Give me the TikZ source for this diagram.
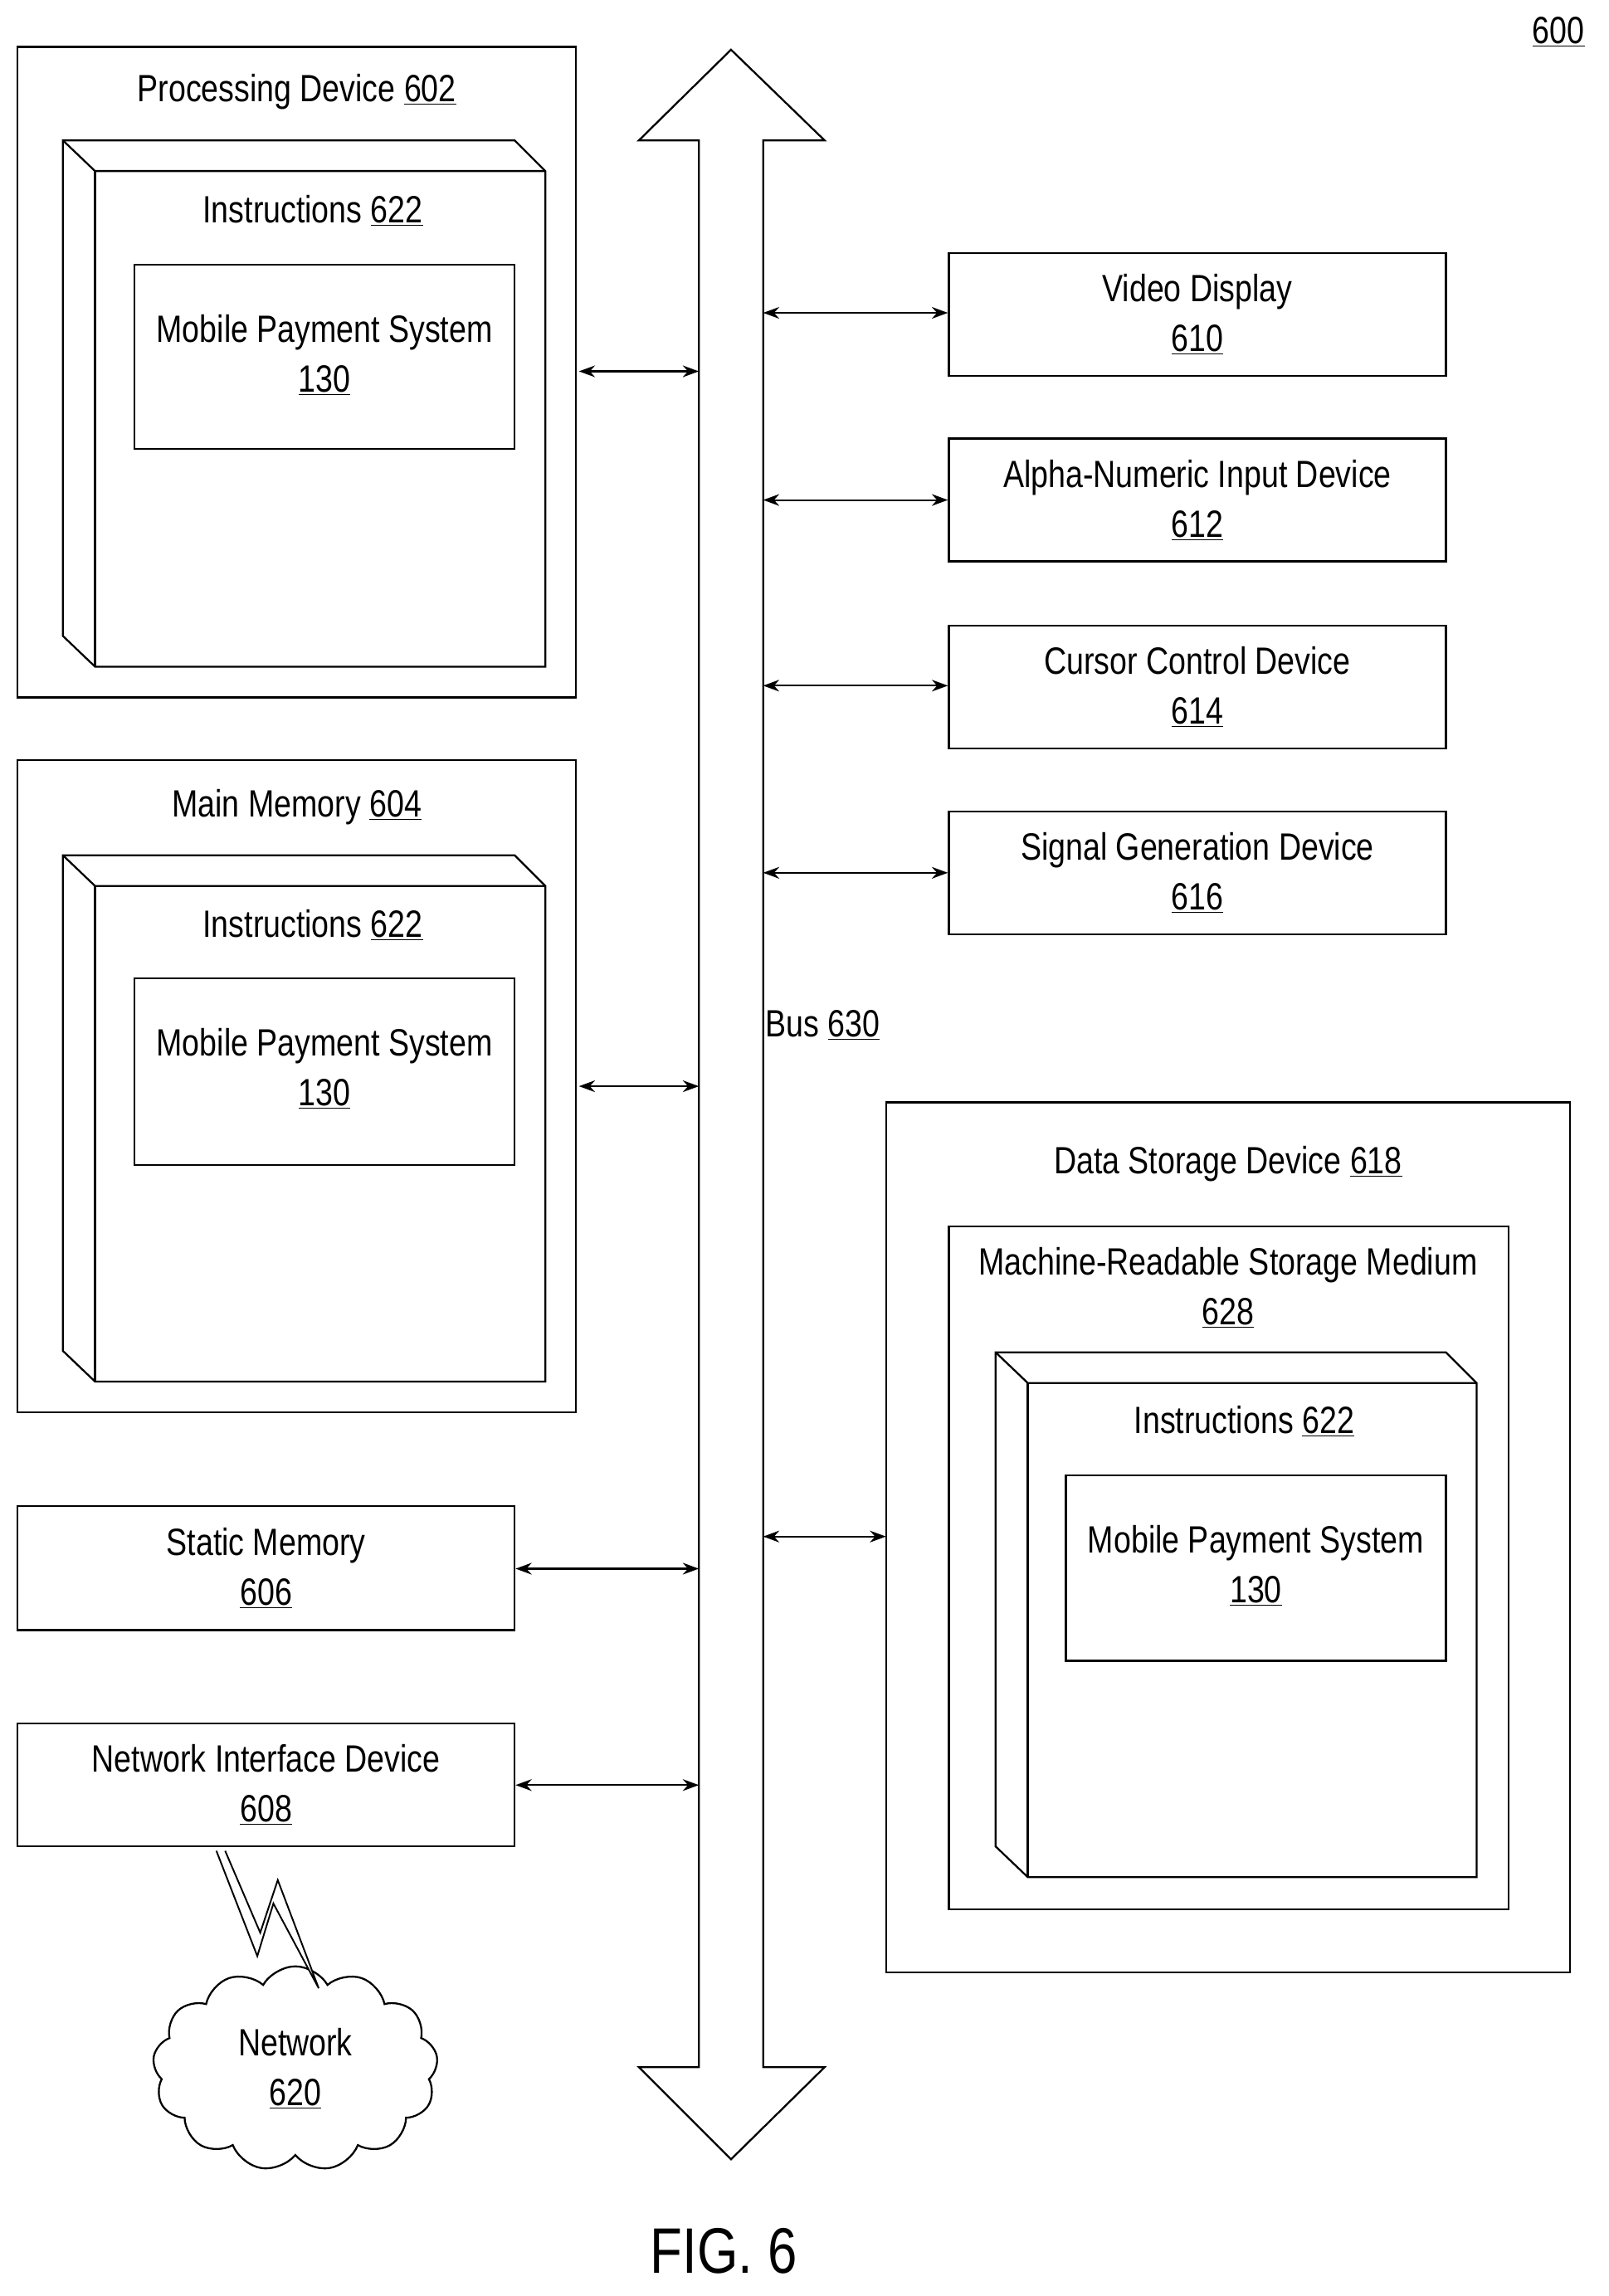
\documentclass[tikz,border=0pt]{standalone}
\usepackage{fontspec}
\setmainfont{Liberation Sans}[FakeStretch=0.82]
\usetikzlibrary{arrows.meta,shapes.symbols}
\begin{document}
\begin{tikzpicture}[x=1pt,y=-1pt,line width=1.3pt,
 box/.style={draw,inner sep=0},
 lbl/.style={font=\fontsize{26}{28}\selectfont,inner sep=1pt},
 arr/.style={{Stealth[length=11pt,width=8pt]}-{Stealth[length=11pt,width=8pt]},line width=1.2pt}]
\useasboundingbox (0,0) rectangle (1100,1570.5);
\newcommand{\threed}[4]{%
 \draw (#1,#2) -- (#3-21,#2) -- (#3,#2+21) -- (#3,#4) -- (#1+22,#4) -- (#1,#4-21) -- cycle;
 \draw (#1,#2) -- (#1+22,#2+21) -- (#3,#2+21);
 \draw (#1+22,#2+21) -- (#1+22,#4);}
\node[lbl] (n600) at (1066,22) {\underline{600}};
\draw (12,32) rectangle (394,477);
\node[lbl] (pd) at (203,63) {Processing Device \underline{602}};
\threed{43}{96}{373}{456}
\node[lbl] (i1) at (214,144) {Instructions \underline{622}};
\draw (92,181) rectangle (352,307);
\node[lbl,align=center] (m1) at (222,243) {Mobile Payment System\\[6pt]\underline{130}};
\coordinate (pdr) at (396,254);
\draw (12,520) rectangle (394,966);
\node[lbl] (mm) at (203,552) {Main Memory \underline{604}};
\threed{43}{585}{373}{945}
\node[lbl] (i2) at (214,633) {Instructions \underline{622}};
\draw (92,669) rectangle (352,797);
\node[lbl,align=center] (m2) at (222,731) {Mobile Payment System\\[6pt]\underline{130}};
\coordinate (mmr) at (396,743);
\node[box,minimum width=340pt,minimum height=85pt,lbl,draw,align=center] (sm) at (182,1072.5) {Static Memory\\[6pt]\underline{606}};
\node[box,minimum width=340pt,minimum height=84pt,lbl,draw,align=center] (ni) at (182,1221) {Network Interface Device\\[6pt]\underline{608}};
\node[cloud,draw,cloud puffs=13,cloud puff arc=120,aspect=1.4,minimum width=195pt,minimum height=140pt,lbl,align=center] (net) at (202,1415) {Network\\[6pt]\underline{620}};
\draw[fill=white,line width=1.1pt] (148,1266) -- (176,1338) -- (187,1302) -- (218,1360) -- (190,1286) -- (178,1322) -- (154,1266);
\draw[arr] (pdr) -- (478,254);
\draw[fill=white] (478,1414) -- (478,96) -- (437,96) -- (500,34) -- (564,96) -- (522,96) -- (522,1414) -- (564,1414) -- (500,1477) -- (437,1414) -- cycle;
\node[lbl,anchor=west] (bus) at (522,701) {Bus \underline{630}};
\node[box,minimum width=340pt,minimum height=84pt,lbl,draw,align=center] (vd) at (819,215) {Video Display\\[6pt]\underline{610}};
\node[box,minimum width=340pt,minimum height=84pt,lbl,draw,align=center] (an) at (819,342) {Alpha-Numeric Input Device\\[6pt]\underline{612}};
\node[box,minimum width=340pt,minimum height=84pt,lbl,draw,align=center] (cc) at (819,470) {Cursor Control Device\\[6pt]\underline{614}};
\node[box,minimum width=340pt,minimum height=84pt,lbl,draw,align=center] (sg) at (819,597) {Signal Generation Device\\[6pt]\underline{616}};
\draw (606,754) rectangle (1074,1349);
\node[lbl] (ds) at (840,796) {Data Storage Device \underline{618}};
\draw (649,839) rectangle (1032,1306);
\node[lbl,align=center] (mr) at (840,881) {Machine-Readable Storage Medium\\[6pt]\underline{628}};
\threed{681}{925}{1010}{1284}
\node[lbl] (i3) at (851,972) {Instructions \underline{622}};
\draw (729,1009) rectangle (989,1136);
\node[lbl,align=center] (m3) at (859,1071) {Mobile Payment System\\[6pt]\underline{130}};
\coordinate (dsl) at (606,1051);
\coordinate (b2) at (478,743);
\coordinate (b3) at (478,1073); \coordinate (b4) at (478,1221);
\coordinate (r1) at (522,214); \coordinate (r2) at (522,342);
\coordinate (r3) at (522,469); \coordinate (r4) at (522,597);
\coordinate (r5) at (522,1051);
\draw[arr] (mmr) -- (b2);
\draw[arr] (sm.east |- b3) -- (b3);
\draw[arr] (ni.east |- b4) -- (b4);
\draw[arr] (r1) -- (vd.west |- r1);
\draw[arr] (r2) -- (an.west |- r2);
\draw[arr] (r3) -- (cc.west |- r3);
\draw[arr] (r4) -- (sg.west |- r4);
\draw[arr] (r5) -- (dsl);
\node[font=\fontsize{44}{46}\selectfont] (fig) at (495,1540) {FIG. 6};
\end{tikzpicture}
\end{document}
